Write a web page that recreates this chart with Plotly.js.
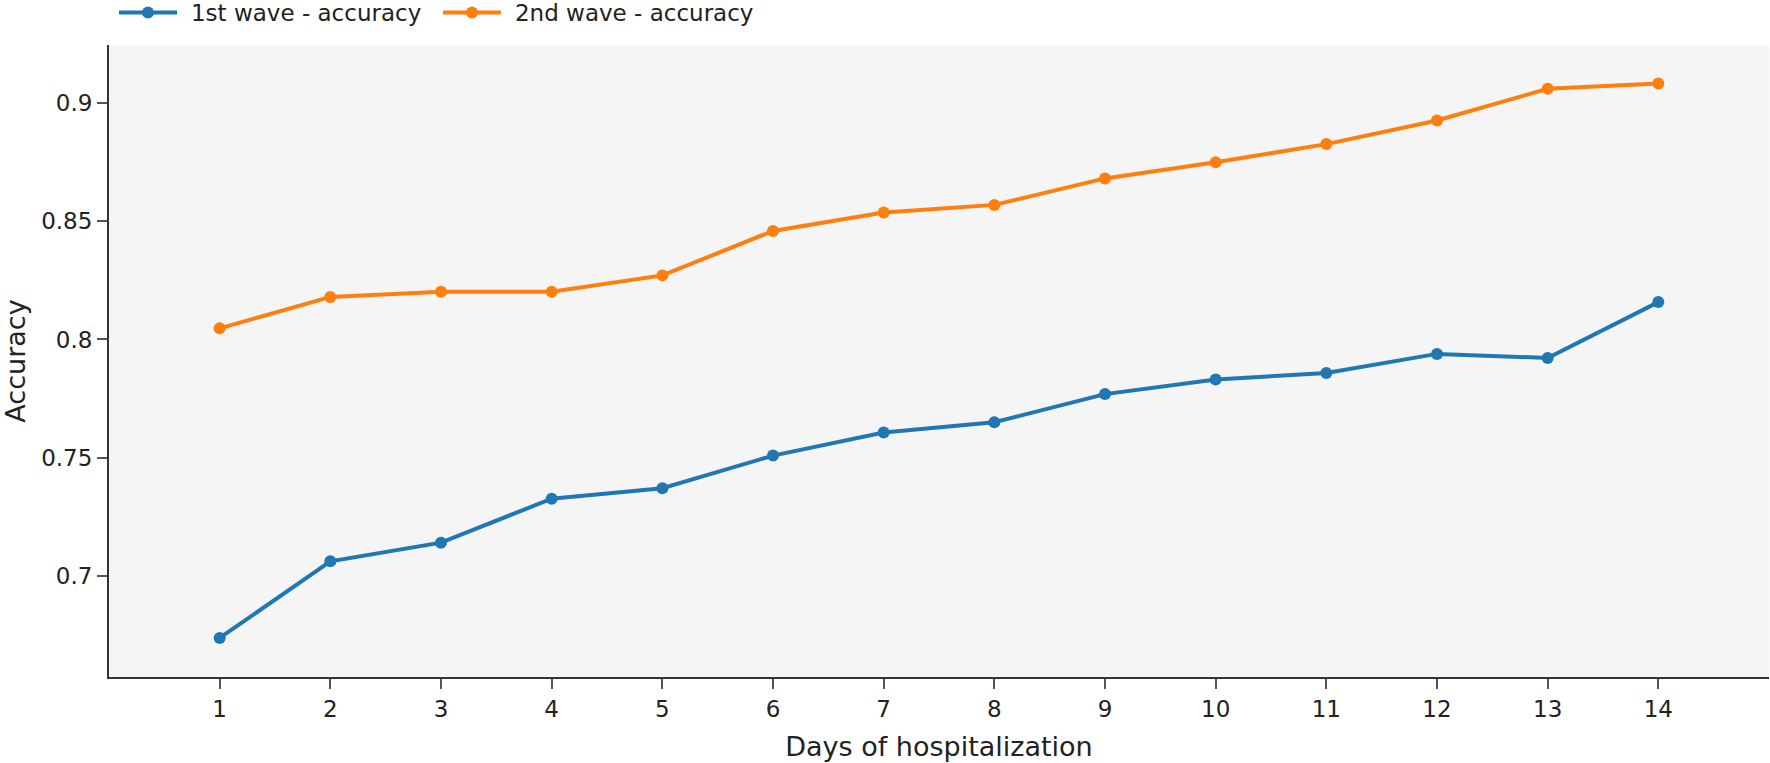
<!DOCTYPE html>
<html>
<head>
<meta charset="utf-8">
<script src="https://cdn.plot.ly/plotly-3.0.1.min.js"></script>
<style>html,body{margin:0;padding:0;background:#fff;}#chart{width:1770px;height:763px;}</style>
</head>
<body>
<div id="chart"></div>
<script>
const days = [1, 2, 3, 4, 5, 6, 7, 8, 9, 10, 11, 12, 13, 14];
const wave1Accuracy = [0.6738, 0.7062, 0.7141, 0.7327, 0.7371, 0.7509, 0.7607, 0.7650, 0.7769, 0.7831, 0.7858, 0.7939, 0.7922, 0.8158];
const wave2Accuracy = [0.8047, 0.8180, 0.8202, 0.8202, 0.8271, 0.8459, 0.8537, 0.8569, 0.8681, 0.8749, 0.8826, 0.8926, 0.9060, 0.9082];
const seriesNames = ["1st wave - accuracy", "2nd wave - accuracy"];
const xTickVals = days;
const yTickVals = [0.7, 0.75, 0.8, 0.85, 0.9];
const yTickText = ["0.7", "0.75", "0.8", "0.85", "0.9"];

const traces = [
  {x: days, y: wave1Accuracy, name: seriesNames[0], type: "scatter", mode: "lines+markers",
   line: {color: "#1f77b4", width: 4}, marker: {color: "#1f77b4", size: 12}},
  {x: days, y: wave2Accuracy, name: seriesNames[1], type: "scatter", mode: "lines+markers",
   line: {color: "#ff7f0e", width: 4}, marker: {color: "#ff7f0e", size: 12}}
];

const layout = {
  width: 1770, height: 763,
  margin: {l: 109, r: 1, t: 45, b: 86, autoexpand: false},
  paper_bgcolor: "#ffffff",
  plot_bgcolor: "#f5f5f5",
  font: {family: "DejaVu Sans, Verdana, sans-serif", size: 23, color: "#222"},
  showlegend: true,
  legend: {orientation: "h", x: 0.003, xanchor: "left", y: 1.0855, yanchor: "top",
           font: {size: 23, color: "#222"}, itemwidth: 67, entrywidth: 242, entrywidthmode: "pixels",
           bgcolor: "rgba(0,0,0,0)"},
  xaxis: {
    range: [0, 15], tickmode: "array", tickvals: xTickVals,
    showgrid: false, zeroline: false, showline: true, linecolor: "#333", linewidth: 2,
    ticks: "outside", ticklen: 10, tickwidth: 2, tickcolor: "#555",
    tickfont: {size: 23, color: "#222"},
    title: {text: "Days of hospitalization", font: {size: 27, color: "#222"}, standoff: 17}
  },
  yaxis: {
    range: [0.6573, 0.9245], tickmode: "array", tickvals: yTickVals, ticktext: yTickText,
    showgrid: false, zeroline: false, showline: true, linecolor: "#333", linewidth: 2,
    ticks: "outside", ticklen: 10, tickwidth: 2, tickcolor: "#555",
    tickfont: {size: 23, color: "#222"},
    title: {text: "Accuracy", font: {size: 27, color: "#222"}, standoff: 15}
  }
};

function widenLegendSymbols() {
  const gd = document.getElementById("chart");
  gd.querySelectorAll(".legend .traces").forEach(function (g) {
    g.querySelectorAll(".legendlines path").forEach(function (p) {
      p.setAttribute("d", "M5,0h58");
    });
    g.querySelectorAll(".legendpoints path").forEach(function (p) {
      p.setAttribute("transform", "translate(34,0)");
    });
  });
}

Plotly.newPlot("chart", traces, layout, {displayModeBar: false, staticPlot: true}).then(widenLegendSymbols);
</script>
</body>
</html>
